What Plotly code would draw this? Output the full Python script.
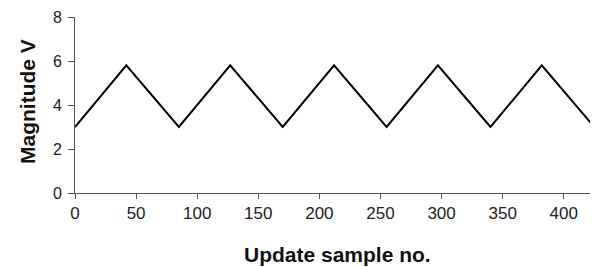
import plotly.graph_objects as go

# Vertices of the triangular update waveform
sample_no = [0, 42, 85, 127, 170, 212, 255, 297, 340, 382, 425]
magnitude = [3.0, 5.8, 3.0, 5.8, 3.0, 5.8, 3.0, 5.8, 3.0, 5.8, 3.0]

x_ticks = [0, 50, 100, 150, 200, 250, 300, 350, 400]
y_ticks = [0, 2, 4, 6, 8]

fig = go.Figure()
fig.add_trace(go.Scatter(
    x=sample_no, y=magnitude, mode="lines",
    line=dict(color="black", width=2), showlegend=False,
))

font = "Liberation Sans, Arial, sans-serif"
fig.update_layout(
    width=590, height=259,
    margin=dict(l=67, r=0, t=9, b=74, autoexpand=False),
    paper_bgcolor="white", plot_bgcolor="white",
    font=dict(family=font, size=17, color="#222"),
    annotations=[
        dict(text="<b>Update sample no.</b>", xref="paper", yref="paper",
             x=0.5, y=0, yshift=-61, yanchor="middle", xanchor="center",
             xshift=1, showarrow=False, font=dict(size=21, color="#111")),
        dict(text="<b>Magnitude V</b>", xref="paper", yref="paper",
             x=0, y=0.5, xshift=-48, yshift=3, xanchor="center", yanchor="middle",
             textangle=-90, showarrow=False,
             font=dict(size=21, color="#111")),
    ],
)
fig.update_xaxes(
    range=[0, 428], tickvals=x_ticks, ticks="outside", ticklen=5,
    tickcolor="#555", showline=True, linecolor="#555", linewidth=1,
    showgrid=False, zeroline=False, automargin=False,
    ticklabeloverflow="allow",
)
fig.update_yaxes(
    range=[0, 8], tickvals=y_ticks, ticks="outside", ticklen=6,
    tickcolor="#555", showline=True, linecolor="#555", linewidth=1,
    showgrid=False, zeroline=False, automargin=False,
    ticklabeloverflow="allow", ticklabelstandoff=3,
    tickfont=dict(size=16),
)
fig.write_html("out.html")
